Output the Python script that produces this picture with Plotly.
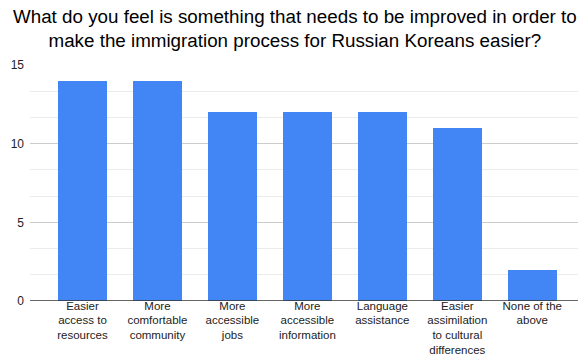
import plotly.graph_objects as go

categories = [
    "Easier<br>access to<br>resources",
    "More<br>comfortable<br>community",
    "More<br>accessible<br>jobs",
    "More<br>accessible<br>information",
    "Language<br>assistance",
    "Easier<br>assimilation<br>to cultural<br>differences",
    "None of the<br>above",
]
values = [14, 14, 12, 12, 12, 11, 2]
y_ticks = [0, 5, 10, 15]
title_text = "What do you feel is something that needs to be improved in order to<br>make the immigration process for Russian Koreans easier?"

H = 358
T, B = 65, 57
plot_h = H - T - B

fig = go.Figure(go.Bar(
    x=list(range(len(categories))), y=values,
    marker=dict(color="#4285F4", line=dict(width=0)),
    width=0.65,
))

fig.update_layout(
    width=582, height=H,
    margin=dict(l=30, r=4, t=T, b=B, autoexpand=False),
    paper_bgcolor="white", plot_bgcolor="white",
    font=dict(family="Arial, Liberation Sans, sans-serif", size=12, color="#222"),
    showlegend=False,
    bargap=0,
)
fig.add_annotation(
    text=title_text, xref="paper", yref="paper",
    x=(295 - 30) / 548, xanchor="center",
    y=1 + (T - 4) / plot_h, yanchor="top",
    showarrow=False, align="center",
    font=dict(size=18.8, color="#000"),
)
fig.update_xaxes(
    tickmode="array", tickvals=list(range(len(categories))), ticktext=categories,
    range=[-0.7, 6.61], showgrid=False, ticks="", tickfont=dict(size=11.5, color="#222"),
    showline=False, zeroline=False, automargin=False, ticklabelstandoff=-4,
)
fig.update_yaxes(
    range=[0, 15], tickmode="array", tickvals=y_ticks,
    showgrid=True, gridcolor="#cccccc", gridwidth=1,
    minor=dict(tickmode="linear", tick0=0, dtick=5/3, showgrid=True, gridcolor="#ebebeb", gridwidth=1),
    zeroline=False, showline=False, ticks="", ticklabelstandoff=5,
    tickfont=dict(size=12, color="#222"), automargin=False,
)
fig.add_hline(y=0, line=dict(color="#333333", width=1.3))

fig.write_html("out.html")
